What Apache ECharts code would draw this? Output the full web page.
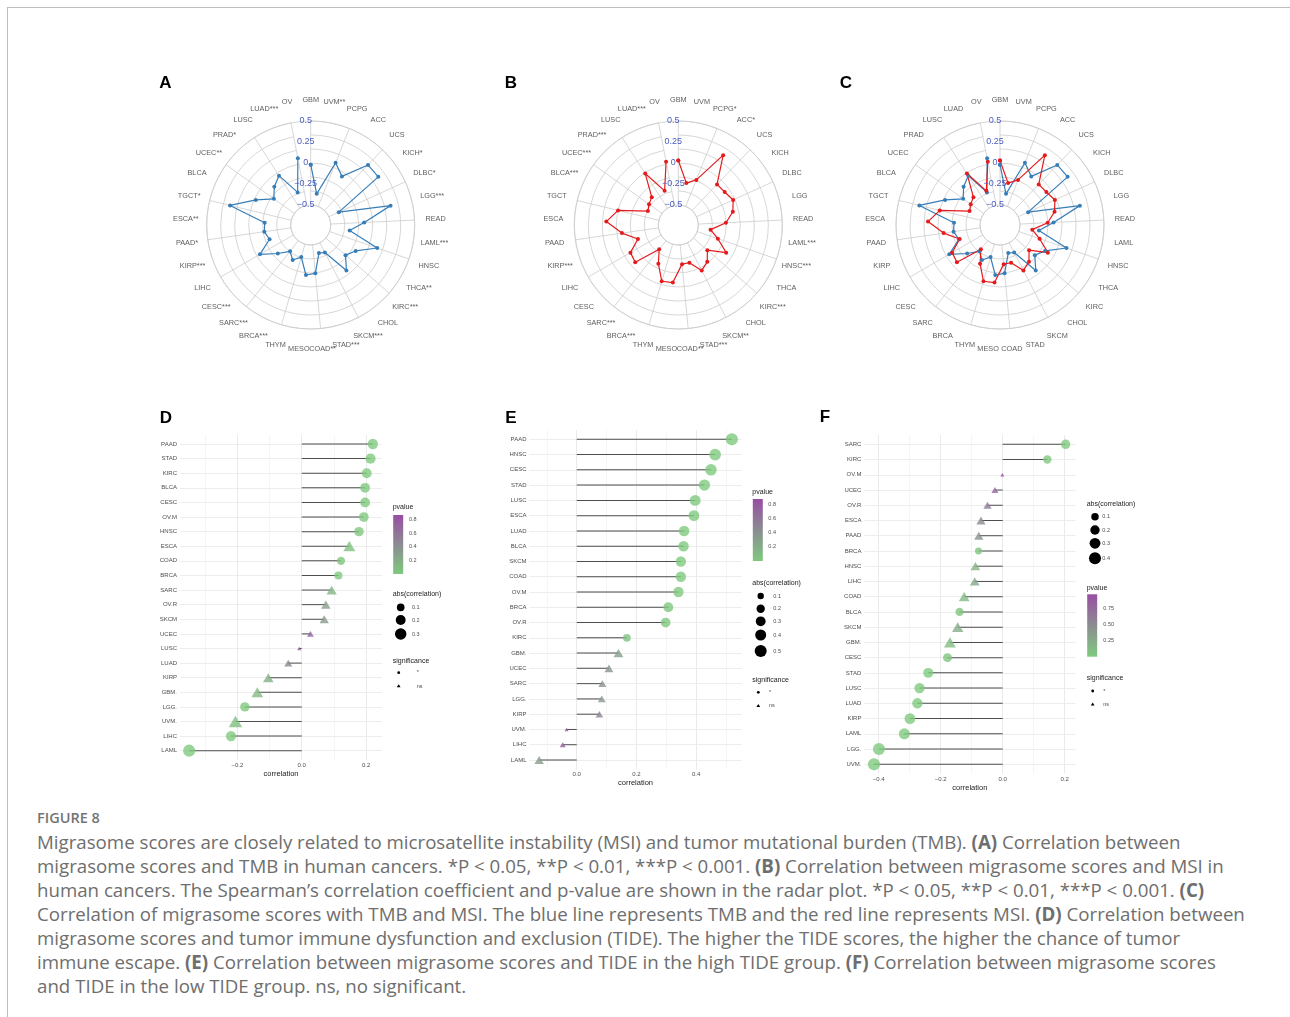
<!DOCTYPE html>
<html lang="en">
<head>
  <meta charset="UTF-8">
  <title>Figure 8 - migrasome scores, TMB, MSI and TIDE</title>
  <style>
    * { margin: 0; padding: 0; }
    body { background: #ffffff; }
    .page { position: relative; width: 1290px; height: 1017px; overflow: hidden; }
    .frame {
      position: absolute; left: 7px; top: 7px; width: 1290px; height: 1017px;
      border-top: 1px solid #bdbdbd; border-left: 1px solid #bdbdbd;
    }
    #chart { position: absolute; left: 0; top: 0; width: 1290px; height: 800px; }
    .caption { position: absolute; left: 37px; top: 808px; color: #6e6e6e; font-family: 'Open Sans', sans-serif; }
    .caption-title { font-size: 14.5px; font-weight: 600; line-height: 20px; margin-bottom: 2px; color: #747474; }
    .caption-line { font-size: 18.7px; line-height: 24px; white-space: nowrap; }
    .caption-line b { font-weight: 700; }
  </style>
</head>
<body>
<div class="page">
  <div class="frame"></div>
  <div id="chart"></div>
  <div class="caption">
    <div class="caption-title">FIGURE 8</div>
    <div class="caption-line">Migrasome scores are closely related to microsatellite instability (MSI) and tumor mutational burden (TMB). <b>(A)</b> Correlation between</div>
    <div class="caption-line">migrasome scores and TMB in human cancers. *P &lt; 0.05, **P &lt; 0.01, ***P &lt; 0.001. <b>(B)</b> Correlation between migrasome scores and MSI in</div>
    <div class="caption-line">human cancers. The Spearman’s correlation coefficient and p-value are shown in the radar plot. *P &lt; 0.05, **P &lt; 0.01, ***P &lt; 0.001. <b>(C)</b></div>
    <div class="caption-line">Correlation of migrasome scores with TMB and MSI. The blue line represents TMB and the red line represents MSI. <b>(D)</b> Correlation between</div>
    <div class="caption-line">migrasome scores and tumor immune dysfunction and exclusion (TIDE). The higher the TIDE scores, the higher the chance of tumor</div>
    <div class="caption-line">immune escape. <b>(E)</b> Correlation between migrasome scores and TIDE in the high TIDE group. <b>(F)</b> Correlation between migrasome scores</div>
    <div class="caption-line">and TIDE in the low TIDE group. ns, no significant.</div>
  </div>
</div>

<script src="https://cdn.jsdelivr.net/npm/echarts@6.0.0/dist/echarts.min.js"></script>
<script type="text/javascript">
  // radar panels A-C, cancer types clockwise from the top
  var radarCats = ['GBM', 'UVM', 'PCPG', 'ACC', 'UCS', 'KICH', 'DLBC', 'LGG', 'READ', 'LAML', 'HNSC',
    'THCA', 'KIRC', 'CHOL', 'SKCM', 'STAD', 'COAD', 'MESO', 'THYM', 'BRCA', 'SARC', 'CESC',
    'LIHC', 'KIRP', 'PAAD', 'ESCA', 'TGCT', 'BLCA', 'UCEC', 'PRAD', 'LUSC', 'LUAD', 'OV'];
  var tmbStars = ['', '**', '', '', '', '*', '*', '***', '', '***', '', '**', '***', '', '***', '***', '**',
    '', '', '***', '***', '***', '', '***', '*', '**', '*', '', '**', '*', '', '***', ''];
  var msiStars = ['', '', '*', '*', '', '', '', '', '', '***', '***', '', '***', '', '**', '***', '**',
    '', '', '***', '***', '', '', '***', '', '', '', '***', '***', '***', '', '***', ''];
  var tmbCor = [-0.02, -0.36, 0.06, -0.05, 0.25, 0.25, -0.37, 0.24, -0.10, -0.27, 0.10, -0.12, -0.19,
    -0.05, -0.37, -0.39, -0.16, -0.14, -0.34, -0.27, -0.34, -0.22, -0.04, -0.22, -0.18, -0.19,
    0.25, -0.02, -0.20, -0.11, -0.04, -0.32, 0.07];
  var msiCor = [0.03, -0.23, -0.16, 0.25, -0.07, -0.06, -0.02, -0.07, -0.17, -0.35, -0.24, -0.08, -0.28,
    -0.18, -0.13, -0.27, -0.27, -0.05, -0.04, -0.22, -0.37, -0.06, -0.08, -0.23, -0.06, 0.12,
    0.00, -0.34, -0.31, -0.28, -0.01, -0.30, 0.03];

  // D: all samples
  var dCats = ['PAAD', 'STAD', 'KIRC', 'BLCA', 'CESC', 'OV.M', 'HNSC', 'ESCA', 'COAD', 'BRCA', 'SARC',
    'OV.R', 'SKCM', 'UCEC', 'LUSC', 'LUAD', 'KIRP', 'GBM.', 'LGG.', 'UVM.', 'LIHC', 'LAML'];
  var dCor = [0.221, 0.214, 0.202, 0.197, 0.197, 0.193, 0.178, 0.148, 0.122, 0.114, 0.093,
    0.075, 0.070, 0.027, -0.008, -0.042, -0.104, -0.138, -0.177, -0.206, -0.220, -0.350];
  var dP = [0.001, 0.001, 0.001, 0.002, 0.003, 0.004, 0.006, 0.06, 0.03, 0.001, 0.14,
    0.30, 0.33, 0.72, 0.87, 0.50, 0.16, 0.11, 0.001, 0.08, 0.001, 0.001];
  var dSig = ['*', '*', '*', '*', '*', '*', '*', 'ns', '*', '*', 'ns',
    'ns', 'ns', 'ns', 'ns', 'ns', 'ns', 'ns', '*', 'ns', '*', '*'];

  // E: high TIDE group
  var eCats = ['PAAD', 'HNSC', 'CESC', 'STAD', 'LUSC', 'ESCA', 'LUAD', 'BLCA', 'SKCM', 'COAD', 'OV.M',
    'BRCA', 'OV.R', 'KIRC', 'GBM.', 'UCEC', 'SARC', 'LGG.', 'KIRP', 'UVM.', 'LIHC', 'LAML'];
  var eCor = [0.520, 0.464, 0.450, 0.428, 0.397, 0.393, 0.360, 0.358, 0.349, 0.349, 0.341,
    0.307, 0.298, 0.168, 0.140, 0.108, 0.086, 0.084, 0.076, -0.034, -0.047, -0.126];
  var eP = [0.001, 0.001, 0.001, 0.001, 0.001, 0.001, 0.002, 0.002, 0.003, 0.003, 0.003,
    0.005, 0.006, 0.04, 0.30, 0.36, 0.40, 0.34, 0.48, 0.87, 0.76, 0.32];
  var eSig = ['*', '*', '*', '*', '*', '*', '*', '*', '*', '*', '*',
    '*', '*', '*', 'ns', 'ns', 'ns', 'ns', 'ns', 'ns', 'ns', 'ns'];

  // F: low TIDE group
  var fCats = ['SARC', 'KIRC', 'OV.M', 'UCEC', 'OV.R', 'ESCA', 'PAAD', 'BRCA', 'HNSC', 'LIHC', 'COAD',
    'BLCA', 'SKCM', 'GBM.', 'CESC', 'STAD', 'LUSC', 'LUAD', 'KIRP', 'LAML', 'LGG.', 'UVM.'];
  var fCor = [0.203, 0.144, -0.001, -0.025, -0.049, -0.070, -0.077, -0.078, -0.088, -0.090, -0.124,
    -0.139, -0.145, -0.170, -0.178, -0.240, -0.268, -0.275, -0.299, -0.317, -0.399, -0.415];
  var fP = [0.001, 0.01, 0.98, 0.80, 0.62, 0.52, 0.45, 0.04, 0.18, 0.28, 0.12,
    0.03, 0.24, 0.10, 0.02, 0.001, 0.001, 0.001, 0.001, 0.001, 0.001, 0.001];
  var fSig = ['*', '*', 'ns', 'ns', 'ns', 'ns', 'ns', '*', 'ns', 'ns', 'ns',
    '*', 'ns', 'ns', '*', '*', '*', '*', '*', '*', '*', '*'];

  // legend breaks
  var dSizeBreaks = [0.1, 0.2, 0.3];
  var eSizeBreaks = [0.1, 0.2, 0.3, 0.4, 0.5];
  var fSizeBreaks = [0.1, 0.2, 0.3, 0.4];
  var dPBreaks = [0.2, 0.4, 0.6, 0.8];
  var ePBreaks = [0.2, 0.4, 0.6, 0.8];
  var fPBreaks = [0.25, 0.5, 0.75];
  var sigLevels = ['*', 'ns'];

  var FONT = 'Liberation Sans';
  var BLUE = '#377EB8', RED = '#E41A1C', GREEN = '#7FC97F', PURPLE = '#984EA3';
  var RING = '#cdcdcd';

  function minus(s) { return String(s).replace('-', '\u2212'); }
  function sizeOf(a, amin, amax) { return 3 + 9.2 * Math.sqrt(Math.max(0, a - amin) / (amax - amin)); }

  function main () {
    var chart = echarts.init(document.getElementById('chart'));
    var polar = [], angleAxis = [], radiusAxis = [];
    var grid = [], xAxis = [], yAxis = [], series = [], visualMap = [], graphic = [];

    // ---------- radar panels ----------
    var radarPanels = [
      { center: [310.7, 225], stars: tmbStars, lines: [[tmbCor, BLUE]] },
      { center: [678.3, 225], stars: msiStars, lines: [[msiCor, RED]] },
      { center: [1000, 225], stars: null, lines: [[tmbCor, BLUE], [msiCor, RED]] }
    ];
    var rIn = 20, rOut = 104, rLab = 125;
    var rMax = -0.5 + (rLab - rIn) / (rOut - rIn);

    radarPanels.forEach(function (rp, k) {
      var ringIdx = 2 * k, dataIdx = 2 * k + 1;
      polar.push({ center: rp.center, radius: [rIn, rOut] });
      polar.push({ center: rp.center, radius: [rIn, rLab] });

      angleAxis.push({
        polarIndex: ringIdx, type: 'category', data: radarCats, boundaryGap: false, startAngle: 90,
        axisLine: { lineStyle: { color: RING, width: 0.8 } },
        axisTick: { show: false }, axisLabel: { show: false },
        splitLine: { show: true, interval: 0, lineStyle: { color: RING, width: 0.8 } }
      });
      radiusAxis.push({
        polarIndex: ringIdx, type: 'value', min: 0, max: 6, interval: 1,
        axisLine: { show: false }, axisTick: { show: false }, axisLabel: { show: false },
        splitLine: { show: true, lineStyle: { color: RING, width: 0.8 } }
      });
      angleAxis.push({
        polarIndex: dataIdx, type: 'category', data: radarCats, boundaryGap: false, startAngle: 90, show: false
      });
      radiusAxis.push({
        polarIndex: dataIdx, type: 'value', min: -0.5, max: rMax, interval: 0.25, z: 5,
        axisLine: { show: false }, axisTick: { show: false }, splitLine: { show: false },
        axisLabel: {
          fontFamily: FONT, fontSize: 9, color: '#4a5cc0', margin: 5, align: 'center', verticalAlign: 'middle',
          formatter: function (v) { return v > 0.5 ? '' : minus(v); }
        }
      });

      rp.lines.forEach(function (ln) {
        var pts = ln[0].map(function (v, i) { return [v, radarCats[i]]; });
        pts.push(pts[0]);
        series.push({
          type: 'line', coordinateSystem: 'polar', polarIndex: dataIdx, data: pts,
          symbol: 'circle', symbolSize: 4, showAllSymbol: true, z: 3,
          lineStyle: { color: ln[1], width: 1.2 }, itemStyle: { color: ln[1] }
        });
      });

      series.push({
        type: 'scatter', coordinateSystem: 'polar', polarIndex: dataIdx, silent: true,
        data: radarCats.map(function (c) { return [rMax, c]; }),
        symbolSize: 1, itemStyle: { color: 'rgba(0,0,0,0)' },
        label: {
          show: true, position: 'inside', fontFamily: FONT, fontSize: 7.3, color: '#333',
          formatter: function (pr) { return radarCats[pr.dataIndex] + (rp.stars ? rp.stars[pr.dataIndex] : ''); }
        }
      });
    });

    // ---------- lollipop panels ----------
    var lolliPanels = [
      { cats: dCats, cor: dCor, p: dP, sig: dSig, sizeBreaks: dSizeBreaks, pBreaks: dPBreaks, pDigits: 1,
        box: { left: 180, right: 382, first: 444, last: 750.7 },
        leg: { x: 392.7, pTitle: 507, barTop: 515, barBottom: 574, sTitle: 594, sRows: [607.3, 620, 634],
          sigTitle: 660.7, sigRows: [672.7, 686], barLabelDx: 16.3, sizeDx: 8, sizeLabelDx: 19.3, sigDx: 6, sigLabelDx: 24 } },
      { cats: eCats, cor: eCor, p: eP, sig: eSig, sizeBreaks: eSizeBreaks, pBreaks: ePBreaks, pDigits: 1,
        box: { left: 529.5, right: 741.5, first: 439.3, last: 760 },
        leg: { x: 752.3, pTitle: 492, barTop: 499, barBottom: 561, sTitle: 583.3, sRows: [596, 608.7, 621.3, 635, 651],
          sigTitle: 680, sigRows: [692.3, 705.7], barLabelDx: 16, sizeDx: 8.4, sizeLabelDx: 21, sigDx: 6, sigLabelDx: 16.7 } },
      { cats: fCats, cor: fCor, p: fP, sig: fSig, sizeBreaks: fSizeBreaks, pBreaks: fPBreaks, pDigits: 2,
        box: { left: 864.4, right: 1075.2, first: 444.3, last: 764.3 },
        leg: { x: 1086.7, pTitle: 587.7, barTop: 594.3, barBottom: 656.7, sTitle: 504, sRows: [516.7, 530, 543.3, 558.3],
          sigTitle: 677.7, sigRows: [691, 704.3], barLabelDx: 16.6, sizeDx: 8.3, sizeLabelDx: 15.6, sigDx: 6, sigLabelDx: 16.6 } }
    ];

    function text(txt, x, y, size, color, weight) {
      return { type: 'text', x: x, y: y, silent: true,
        style: { text: txt, fontFamily: FONT, fontSize: size, fontWeight: weight || 'normal', fill: color,
          align: 'left', verticalAlign: 'middle', textAlign: 'left', textVerticalAlign: 'middle' } };
    }

    lolliPanels.forEach(function (lp) {
      var n = lp.cats.length, b = lp.box, L = lp.leg;
      var lo0 = Math.min.apply(null, lp.cor), hi0 = Math.max.apply(null, lp.cor);
      var pad = (hi0 - lo0) * 0.05, lo = lo0 - pad, hi = hi0 + pad;
      var ppu = (b.right - b.left) / (hi - lo);
      var sp = (b.last - b.first) / (n - 1);
      var top = b.first - 0.6 * sp, bottom = b.last + 0.6 * sp;
      var px = function (v) { return b.left + (v - lo) * ppu; };
      var abs = lp.cor.map(Math.abs);
      var amin = Math.min.apply(null, abs), amax = Math.max.apply(null, abs);
      var pmin = Math.min.apply(null, lp.p), pmax = Math.max.apply(null, lp.p);
      var g = grid.length;

      // minor vertical grid lines
      var mnLo = Math.ceil(lo * 10) / 10, mnHi = Math.floor(hi * 10) / 10;
      grid.push({ left: px(mnLo), width: (mnHi - mnLo) * ppu, top: top, height: bottom - top, outerBoundsMode: 'none' });
      xAxis.push({ gridIndex: g, type: 'value', min: mnLo, max: mnHi, interval: 0.1,
        axisLine: { show: false }, axisTick: { show: false }, axisLabel: { show: false },
        splitLine: { show: true, lineStyle: { color: '#f1f1f1', width: 0.7 } } });
      yAxis.push({ gridIndex: g, type: 'value', show: false });

      // major vertical grid lines + tick labels
      var mjLo = Math.ceil(lo / 0.2) * 0.2, mjHi = Math.floor(hi / 0.2) * 0.2;
      grid.push({ left: px(mjLo), width: (mjHi - mjLo) * ppu, top: top, height: bottom - top, outerBoundsMode: 'none' });
      xAxis.push({ gridIndex: g + 1, type: 'value', min: mjLo, max: mjHi, interval: 0.2,
        axisLine: { show: false }, axisTick: { show: false },
        axisLabel: { fontFamily: FONT, fontSize: 6, color: '#4d4d4d', margin: 2.5,
          formatter: function (v) { return minus(v.toFixed(1)); } },
        splitLine: { show: true, lineStyle: { color: '#e9e9e9', width: 0.9 } } });
      yAxis.push({ gridIndex: g + 1, type: 'value', show: false });

      // data grid
      grid.push({ left: b.left, width: b.right - b.left, top: b.first, height: b.last - b.first, outerBoundsMode: 'none' });
      xAxis.push({ gridIndex: g + 2, type: 'value', min: lo, max: hi,
        axisLine: { show: false }, axisTick: { show: false }, axisLabel: { show: false }, splitLine: { show: false },
        name: 'correlation', nameLocation: 'middle', nameGap: (bottom - b.last) + 10.2,
        nameTextStyle: { fontFamily: FONT, fontSize: 7.5, color: '#222' } });
      yAxis.push({ gridIndex: g + 2, type: 'category', data: lp.cats, inverse: true, boundaryGap: false,
        axisLine: { show: false }, axisTick: { show: false },
        axisLabel: { interval: 0, margin: 3, fontFamily: FONT, fontSize: 6, color: '#4d4d4d' },
        splitLine: { show: true, interval: 0, lineStyle: { color: '#ebebeb', width: 0.9 } } });

      series.push({ type: 'bar', xAxisIndex: g + 2, yAxisIndex: g + 2, data: lp.cor, barWidth: 1,
        itemStyle: { color: '#4d4d4d' }, silent: true, z: 2 });
      series.push({ type: 'scatter', xAxisIndex: g + 2, yAxisIndex: g + 2, z: 3,
        data: lp.cor.map(function (v, i) { return [v, lp.cats[i], lp.p[i]]; }),
        symbol: function (val, params) { return lp.sig[params.dataIndex] === '*' ? 'circle' : 'triangle'; },
        symbolSize: function (val, params) {
          var d = sizeOf(Math.abs(val[0]), amin, amax);
          return lp.sig[params.dataIndex] === '*' ? d : [d * 1.35, d * 1.15];
        } });
      visualMap.push({ type: 'continuous', show: false, seriesIndex: series.length - 1, dimension: 2,
        min: pmin, max: pmax, inRange: { color: [GREEN, PURPLE] } });

      // legends: pvalue colourbar, size, significance
      graphic.push(text('pvalue', L.x, L.pTitle, 7, '#222'));
      graphic.push({ type: 'rect', silent: true,
        shape: { x: L.x + 0.5, y: L.barTop, width: 10, height: L.barBottom - L.barTop },
        style: { fill: new echarts.graphic.LinearGradient(0, 1, 0, 0, [{ offset: 0, color: GREEN }, { offset: 1, color: PURPLE }]) } });
      lp.pBreaks.forEach(function (v) {
        var y = L.barBottom - (v - pmin) / (pmax - pmin) * (L.barBottom - L.barTop);
        graphic.push(text(v.toFixed(lp.pDigits), L.x + L.barLabelDx, y, 5.5, '#4d4d4d'));
      });
      graphic.push(text('abs(correlation)', L.x, L.sTitle, 7, '#222'));
      lp.sizeBreaks.forEach(function (v, i) {
        var d = sizeOf(v, amin, amax);
        graphic.push({ type: 'circle', silent: true, shape: { cx: L.x + L.sizeDx, cy: L.sRows[i], r: d / 2 }, style: { fill: '#000' } });
        graphic.push(text(v.toFixed(1), L.x + L.sizeLabelDx, L.sRows[i], 5.5, '#4d4d4d'));
      });
      graphic.push(text('significance', L.x, L.sigTitle, 7, '#222'));
      var sx = L.x + L.sigDx;
      sigLevels.forEach(function (s, i) {
        var y = L.sigRows[i];
        if (s === '*') {
          graphic.push({ type: 'circle', silent: true, shape: { cx: sx, cy: y, r: 1.4 }, style: { fill: '#000' } });
        } else {
          graphic.push({ type: 'polygon', silent: true,
            shape: { points: [[sx, y - 1.8], [sx - 1.9, y + 1.3], [sx + 1.9, y + 1.3]] }, style: { fill: '#000' } });
        }
        graphic.push(text(s, L.x + L.sigLabelDx, y, 5.5, '#4d4d4d'));
      });
    });

    // panel letters
    var letters = [['A', 165.3, 83.3], ['B', 510.8, 83.3], ['C', 845.8, 83.3],
      ['D', 165.8, 418], ['E', 510.8, 418], ['F', 825, 417.5]];
    letters.forEach(function (l) {
      var t = text(l[0], l[1], l[2], 17, '#000', 'bold');
      t.style.align = 'center'; t.style.textAlign = 'center';
      graphic.push(t);
    });

    chart.setOption({
      animation: false,
      textStyle: { fontFamily: FONT },
      polar: polar, angleAxis: angleAxis, radiusAxis: radiusAxis,
      grid: grid, xAxis: xAxis, yAxis: yAxis,
      visualMap: visualMap,
      series: series,
      graphic: graphic
    });
  }

  window.addEventListener('load', main);
</script>
</body>
</html>
